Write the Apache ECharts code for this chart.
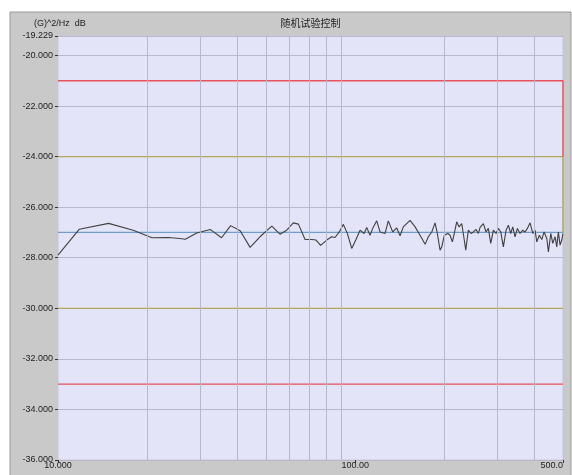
<!DOCTYPE html>
<html>
<head>
<meta charset="utf-8">
<script src="https://cdn.jsdelivr.net/npm/echarts@6/dist/echarts.min.js"></script>
<style>html,body{margin:0;padding:0;background:#fff;}#c{width:572px;height:475px;}</style>
</head>
<body>
<div id="c"></div>
<script>
// ---- data ----
const freqs = [10,11.8,14.8,17.9,20.7,23.5,25.7,26.8,29.3,32.5,
  35.5,38.1,41.0,44.3,47.8,52.4,55.8,58.8,61.9,64.4,
  67.8,71.4,73.8,76.5,80.2,83.3,85.5,88.4,91.2,94.1,
  97.3,100.6,103.8,107.1,109.3,112.1,115.1,118.1,121.2,126.0,
  129.2,133.7,137.9,141.5,145.1,152.9,159.0,165.2,171.8,176.2,
  180.9,185.6,188.9,192.9,195.5,199.4,204.8,208.4,212.2,215.4,
  219.5,223.5,228.2,232.3,235.4,240.2,245.3,249.7,255.0,259.6,
  263.0,269.8,275.5,280.4,285.7,291.6,297.7,303.0,308.7,315.0,
  321.7,327.5,333.6,338.8,344.9,351.2,358.5,366.1,372.7,379.4,
  387.5,395.6,402.7,408.1,416.4,424.2,431.9,441.0,446.5,454.9,
  462.0,470.3,476.4,482.4,488.8,495.3,500];
const psdValues = [-27.90,-26.87,-26.64,-26.91,-27.21,-27.20,-27.24,-27.27,-27.02,-26.88,
  -27.21,-26.73,-26.93,-27.59,-27.17,-26.75,-27.07,-26.91,-26.62,-26.67,
  -27.28,-27.28,-27.30,-27.51,-27.30,-27.17,-27.20,-26.98,-26.68,-27.04,
  -27.63,-27.28,-26.91,-27.04,-26.80,-27.11,-26.78,-26.54,-26.98,-27.04,
  -26.54,-26.98,-26.82,-27.13,-26.78,-26.52,-26.78,-27.11,-27.47,-27.17,
  -26.98,-26.62,-27.04,-27.70,-27.57,-27.11,-27.04,-27.11,-27.37,-27.04,
  -26.58,-26.78,-26.65,-27.24,-27.70,-26.91,-27.04,-26.98,-26.88,-27.04,
  -26.80,-26.65,-26.98,-26.84,-27.43,-26.91,-27.04,-26.84,-26.98,-27.57,
  -26.91,-26.71,-27.04,-26.78,-27.17,-26.84,-27.04,-26.91,-26.98,-26.84,
  -26.62,-27.04,-26.91,-27.37,-27.11,-27.28,-26.98,-27.24,-27.77,-27.04,
  -27.43,-27.17,-27.57,-26.98,-27.50,-27.30,-27.04];
const freqMin = 10, freqMax = 500;
const refLevel = -27;
const abortHigh = -21, alarmHigh = -24, alarmLow = -30, abortLow = -33;
const gridFreqs = [20,30,40,50,60,70,80,90,200,300,400];
const xTickValues = [10,100,500];
const xTickLabels = ['10.000','100.00','500.0'];
const yMin = -36, yMax = -19.229, yInterval = 2;
const titleText = '随机试验控制';
const unitText = '(G)^2/Hz  dB';

// ---- chart ----
const chart = echarts.init(document.getElementById('c'));
const lineData = freqs.map((f,i)=>[f, psdValues[i]]);
function xLabel(v){
  let best=0, bd=Infinity;
  xTickValues.forEach((t,i)=>{const d=Math.abs(Math.log(v)-Math.log(t)); if(d<bd){bd=d;best=i;}});
  return xTickLabels[best];
}
const font = 'Liberation Sans, Arial, sans-serif';
chart.setOption({
  backgroundColor:'#ffffff',
  animation:false,
  graphic:{elements:[
    {type:'rect', z:-10, silent:true, shape:{x:10,y:12,width:561,height:470},
     style:{fill:'#c9c9c9', stroke:'#9a9a9a', lineWidth:1}},
    {type:'text', z:10, x:310.5, y:23, silent:true,
     style:{text:titleText, fill:'#222', font:'10px "Noto Sans CJK SC", sans-serif', textAlign:'center', textVerticalAlign:'middle'}},
    {type:'text', z:10, x:34, y:24, silent:true,
     style:{text:unitText, fill:'#222', font:'9px '+font, textAlign:'left', textVerticalAlign:'middle'}}
  ]},
  grid:{left:58, right:9, top:36, bottom:15, outerBoundsMode:'none', containLabel:false,
    show:true, backgroundColor:'#e4e4f8', borderColor:'#c4c4dc', borderWidth:1},
  xAxis:{type:'log', logBase:10, min:freqMin, max:freqMax,
    splitLine:{show:false}, axisLine:{show:false},
    axisTick:{show:true, customValues:xTickValues, length:3, lineStyle:{color:'#333'}},
    axisLabel:{customValues:xTickValues, formatter:xLabel, fontSize:9, color:'#222', fontFamily:font, margin:1,
      showMaxLabel:true, showMinLabel:true, alignMaxLabel:'right'}
  },
  yAxis:{type:'value', min:yMin, max:yMax, interval:yInterval,
    axisLine:{show:false},
    axisTick:{show:true, length:3, lineStyle:{color:'#333'}},
    splitLine:{show:true, lineStyle:{color:'#b8b8cc', width:1}},
    axisLabel:{formatter:v=>v.toFixed(3), fontSize:9, color:'#222', fontFamily:font, margin:5, showMaxLabel:true, showMinLabel:true}
  },
  series:[
    {type:'line', name:'grid', data:[], silent:true,
     markLine:{silent:true, symbol:'none', label:{show:false}, animation:false,
       lineStyle:{color:'#b8b8cc', type:'solid', width:1},
       data:gridFreqs.map(f=>({xAxis:f}))}},
    {type:'line', name:'ref', data:[[freqMin,refLevel],[freqMax,refLevel]], symbol:'none', silent:true,
     lineStyle:{color:'#6f9cc8', width:1.2}},
    {type:'line', name:'alarmHigh', data:[[freqMin,alarmHigh],[freqMax,alarmHigh],[freqMax,refLevel]], symbol:'none', silent:true,
     lineStyle:{color:'#b0a858', width:1.3}},
    {type:'line', name:'alarmLow', data:[[freqMin,alarmLow],[freqMax,alarmLow]], symbol:'none', silent:true,
     lineStyle:{color:'#b0a858', width:1.3}},
    {type:'line', name:'abortHigh', data:[[freqMin,abortHigh],[freqMax,abortHigh],[freqMax,alarmHigh]], symbol:'none', silent:true,
     lineStyle:{color:'#e8505a', width:1.4}},
    {type:'line', name:'abortLow', data:[[freqMin,abortLow],[freqMax,abortLow]], symbol:'none', silent:true,
     lineStyle:{color:'#e8505a', width:1.4}},
    {type:'line', name:'psd', data:lineData, symbol:'none', silent:true,
     lineStyle:{color:'#404040', width:1.1}}
  ]
});
</script>
</body>
</html>
